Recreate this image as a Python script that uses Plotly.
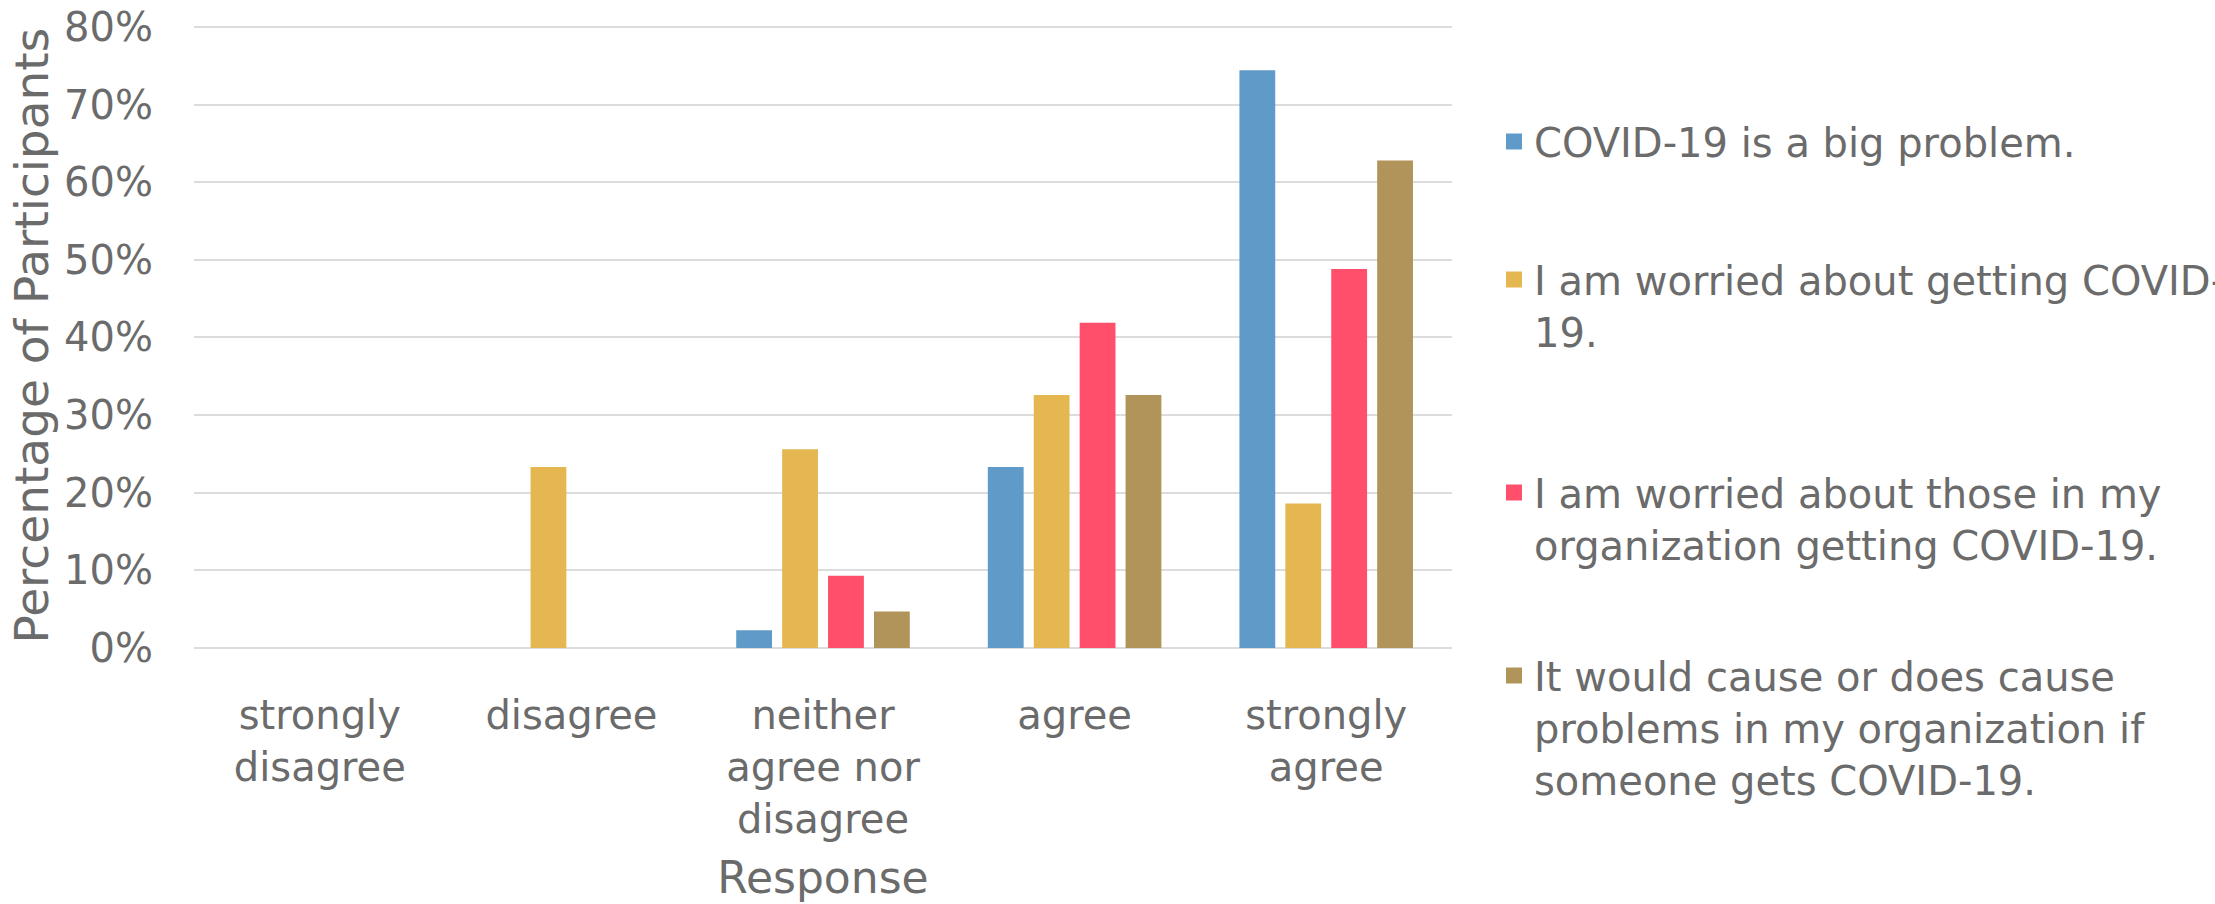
import plotly.graph_objects as go

categories = ["strongly disagree", "disagree", "neither agree nor disagree", "agree", "strongly agree"]
tick_labels = ["strongly<br>disagree", "disagree", "neither<br>agree nor<br>disagree", "agree", "strongly<br>agree"]

series_names = [
    "COVID-19 is a big problem.",
    "I am worried about getting COVID-<br>19.",
    "I am worried about those in my<br>organization getting COVID-19.",
    "It would cause or does cause<br>problems in my organization if<br>someone gets COVID-19.",
]
big_problem = [0.0, 0.0, 2.3, 23.3, 74.4]
worried_self = [0.0, 23.3, 25.6, 32.6, 18.6]
worried_org = [0.0, 0.0, 9.3, 41.9, 48.8]
cause_problems = [0.0, 0.0, 4.7, 32.6, 62.8]

colors = ["#5F9AC8", "#E5B751", "#FF4F6A", "#B19459"]
y_ticks = [0, 10, 20, 30, 40, 50, 60, 70, 80]
y_tick_labels = ["0%", "10%", "20%", "30%", "40%", "50%", "60%", "70%", "80%"]

FONT = "DejaVu Sans"
GRAY = "#6b6b6b"
W, H = 2215, 904
PLOT_L, PLOT_R, PLOT_T, PLOT_B = 194, 1452, 23, 648

series = [big_problem, worried_self, worried_org, cause_problems]
legend_tops = [109, 247, 460, 643]
legend_ids = ["legend", "legend2", "legend3", "legend4"]

fig = go.Figure()
for name, vals, col, lid in zip(series_names, series, colors, legend_ids):
    fig.add_trace(go.Bar(
        x=categories, y=vals, name=name, legend=lid, showlegend=False,
        marker=dict(color=col, line=dict(width=0)),
    ))
    # legend-only entry with a larger square swatch
    fig.add_trace(go.Scatter(
        x=[None], y=[None], mode="markers", name=name, legend=lid,
        marker=dict(symbol="square", size=25, color=col, line=dict(width=0)),
        hoverinfo="skip",
    ))

layout_legends = {}
for lid, top in zip(legend_ids, legend_tops):
    layout_legends[lid] = dict(
        xref="container", yref="container",
        x=1494 / W, y=1 - top / H, xanchor="left", yanchor="top",
        font=dict(family=FONT, size=40, color=GRAY),
        bgcolor="rgba(0,0,0,0)", valign="top", borderwidth=0,
    )

fig.update_layout(
    width=W, height=H,
    margin=dict(l=PLOT_L, r=W - PLOT_R, t=PLOT_T, b=H - PLOT_B, autoexpand=False),
    plot_bgcolor="white", paper_bgcolor="white",
    barmode="group", bargap=0.27, bargroupgap=0.22,
    font=dict(family=FONT, size=40, color=GRAY),
    showlegend=True,
    annotations=[dict(
        text="Percentage of Participants", textangle=-90,
        xref="paper", yref="paper",
        x=(31 - PLOT_L) / (PLOT_R - PLOT_L), y=0.5,
        xanchor="center", yanchor="middle", showarrow=False,
        font=dict(family=FONT, size=47, color=GRAY),
    )],
    **layout_legends,
)
fig.update_xaxes(
    type="category", categoryorder="array", categoryarray=categories,
    tickvals=categories, ticktext=tick_labels,
    tickfont=dict(family=FONT, size=40, color=GRAY),
    showgrid=False, showline=False, ticks="", ticklabelstandoff=40,
    title=dict(text="Response", font=dict(family=FONT, size=44, color=GRAY), standoff=21),
)
fig.update_yaxes(
    range=[0, 80.5], tickvals=y_ticks, ticktext=y_tick_labels,
    tickfont=dict(family=FONT, size=40, color=GRAY),
    showgrid=True, gridcolor="#dcdcdc", gridwidth=2,
    zeroline=True, zerolinecolor="#dcdcdc", zerolinewidth=2,
    showline=False, ticks="", ticklabelstandoff=40,
)

fig.write_html("out.html")
